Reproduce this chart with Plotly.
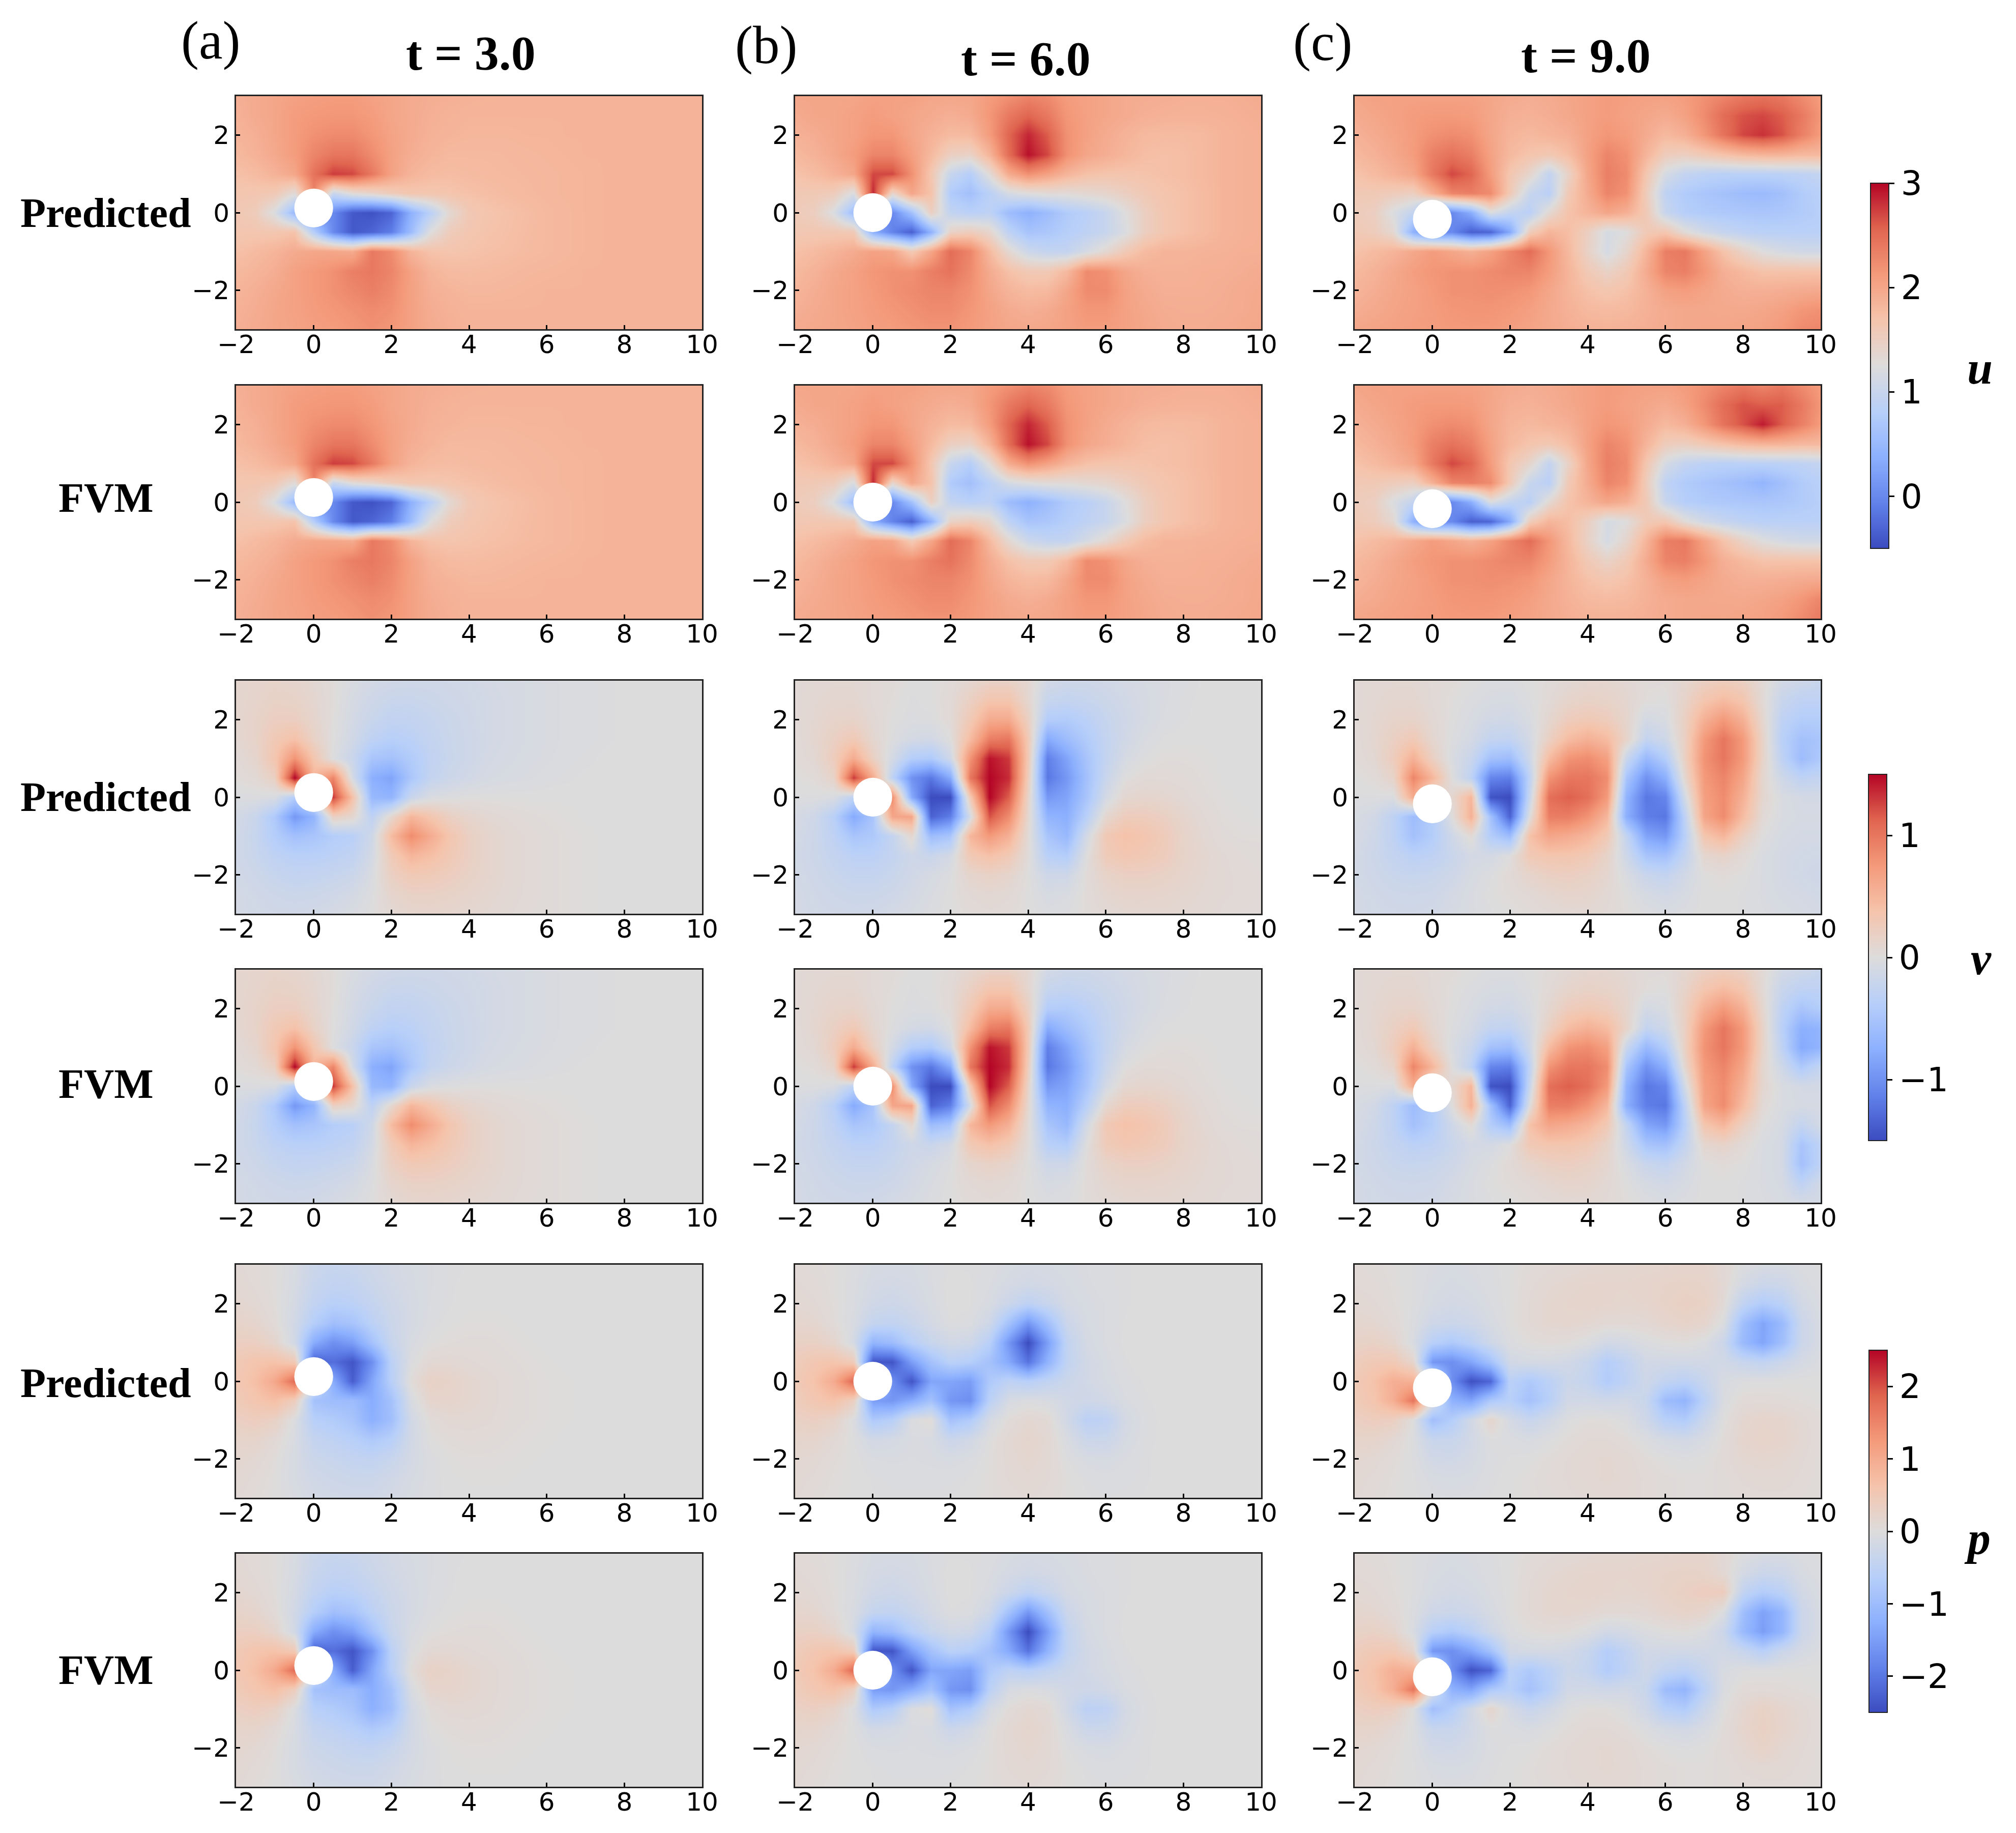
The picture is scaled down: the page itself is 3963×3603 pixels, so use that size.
import plotly.graph_objects as go

W, H = 3963, 3603

# grid of the fields, rows below are written from y = 3 (top) down to y = -3
x_grid = [-2, -1.5, -1, -0.5, 0, 0.5, 1, 1.5, 2, 2.5, 3, 3.5, 4, 4.5, 5, 5.5, 6, 6.5, 7, 7.5, 8, 8.5, 9, 9.5, 10]
y_grid = [3, 2.5, 2, 1.5, 1, 0.5, 0, -0.5, -1, -1.5, -2, -2.5, -3]

u_t3 = [
    [1.9,1.95,2.0,2.05,2.08,2.1,2.1,2.05,2.0,1.95,1.92,1.9,1.88,1.87,1.86,1.86,1.86,1.86,1.86,1.86,1.86,1.86,1.86,1.86,1.86],
    [1.88,1.95,2.0,2.1,2.13,2.15,2.15,2.1,2.0,1.95,1.9,1.87,1.85,1.85,1.85,1.85,1.85,1.85,1.85,1.85,1.85,1.85,1.85,1.85,1.85],
    [1.85,1.9,2.0,2.1,2.2,2.25,2.25,2.15,2.03,1.95,1.88,1.85,1.83,1.83,1.83,1.84,1.84,1.85,1.85,1.85,1.85,1.85,1.85,1.85,1.85],
    [1.8,1.87,1.97,2.1,2.3,2.42,2.42,2.25,2.05,1.92,1.85,1.8,1.8,1.8,1.81,1.82,1.83,1.84,1.85,1.85,1.85,1.85,1.85,1.85,1.85],
    [1.72,1.77,1.87,2.0,2.45,2.75,2.7,2.4,2.05,1.85,1.78,1.76,1.78,1.79,1.8,1.81,1.82,1.83,1.84,1.85,1.85,1.85,1.85,1.85,1.85],
    [1.65,1.65,1.6,1.3,2.3,1.0,1.3,1.4,1.55,1.65,1.65,1.68,1.72,1.75,1.78,1.8,1.82,1.83,1.84,1.85,1.85,1.85,1.85,1.85,1.85],
    [1.62,1.55,1.2,0.5,0.0,0.0,-0.4,-0.45,-0.3,0.4,0.85,1.35,1.6,1.68,1.72,1.76,1.8,1.82,1.84,1.85,1.85,1.85,1.85,1.85,1.85],
    [1.65,1.65,1.65,1.7,0.8,0.0,-0.4,-0.3,-0.1,0.55,1.25,1.55,1.65,1.7,1.73,1.77,1.8,1.82,1.84,1.85,1.85,1.85,1.85,1.85,1.85],
    [1.72,1.78,1.85,1.95,2.0,2.0,1.95,2.4,2.25,1.85,1.7,1.68,1.7,1.73,1.75,1.78,1.8,1.82,1.84,1.85,1.85,1.85,1.85,1.85,1.85],
    [1.8,1.85,1.92,2.05,2.12,2.2,2.35,2.4,2.3,2.05,1.85,1.78,1.77,1.78,1.8,1.82,1.83,1.84,1.85,1.85,1.85,1.85,1.85,1.85,1.85],
    [1.85,1.9,1.98,2.05,2.12,2.2,2.28,2.35,2.25,2.05,1.9,1.85,1.82,1.82,1.83,1.84,1.85,1.85,1.85,1.85,1.85,1.85,1.85,1.85,1.85],
    [1.88,1.93,2.0,2.05,2.1,2.15,2.2,2.25,2.2,2.05,1.93,1.88,1.85,1.85,1.85,1.85,1.85,1.85,1.85,1.85,1.85,1.85,1.85,1.85,1.85],
    [1.9,1.95,2.0,2.03,2.08,2.1,2.15,2.2,2.15,2.05,1.95,1.9,1.87,1.86,1.86,1.86,1.86,1.86,1.86,1.86,1.86,1.86,1.86,1.86,1.86],
]
u_t6 = [
    [2.0,2.0,2.0,2.0,2.05,2.05,2.05,2.0,2.0,2.0,2.1,2.2,2.3,2.25,2.1,2.05,2.0,1.95,1.93,1.92,1.9,1.9,1.9,1.92,1.95],
    [1.95,2.0,2.0,2.05,2.1,2.05,2.0,1.95,1.9,1.95,2.15,2.4,2.55,2.4,2.15,2.05,2.0,1.95,1.9,1.88,1.87,1.87,1.88,1.9,1.92],
    [1.88,1.93,2.0,2.05,2.15,2.15,2.0,1.88,1.78,1.8,2.1,2.55,2.85,2.6,2.2,2.05,1.95,1.87,1.8,1.78,1.78,1.8,1.85,1.88,1.9],
    [1.8,1.87,1.97,2.1,2.3,2.3,2.08,1.8,1.5,1.45,1.85,2.5,2.95,2.7,2.2,2.0,1.92,1.83,1.75,1.73,1.75,1.8,1.85,1.88,1.9],
    [1.7,1.77,1.87,2.0,2.7,2.7,2.2,1.65,1.0,0.8,1.3,1.95,2.2,2.05,1.85,1.72,1.68,1.68,1.7,1.73,1.75,1.8,1.85,1.88,1.9],
    [1.6,1.6,1.55,1.2,2.85,1.4,2.0,1.7,0.75,0.6,0.85,1.15,1.25,1.3,1.3,1.35,1.4,1.5,1.6,1.68,1.72,1.78,1.85,1.88,1.9],
    [1.57,1.5,1.2,0.55,0.0,0.0,0.6,1.5,0.95,0.85,0.9,0.55,0.4,0.55,0.75,0.85,1.0,1.25,1.5,1.65,1.72,1.78,1.85,1.88,1.9],
    [1.62,1.63,1.63,1.6,0.4,-0.05,-0.35,0.4,1.45,1.55,1.4,0.9,0.65,0.7,0.8,0.9,1.0,1.2,1.5,1.65,1.72,1.78,1.85,1.88,1.9],
    [1.72,1.78,1.85,1.95,2.05,2.0,1.6,2.0,2.5,2.3,1.8,1.35,1.05,0.95,0.95,1.15,1.35,1.6,1.78,1.85,1.85,1.87,1.88,1.9,1.9],
    [1.8,1.87,1.97,2.05,2.15,2.2,2.2,2.35,2.45,2.25,1.95,1.72,1.6,1.6,1.8,2.25,2.2,2.0,1.9,1.88,1.88,1.9,1.9,1.92,1.95],
    [1.85,1.92,2.0,2.05,2.12,2.2,2.25,2.3,2.3,2.2,2.0,1.85,1.78,1.8,2.0,2.25,2.25,2.05,1.95,1.9,1.9,1.9,1.92,1.95,1.97],
    [1.9,1.95,2.0,2.05,2.1,2.15,2.2,2.25,2.25,2.15,2.05,1.95,1.9,1.95,2.05,2.15,2.15,2.05,1.98,1.93,1.92,1.92,1.93,1.95,1.98],
    [1.95,1.98,2.0,2.03,2.08,2.1,2.15,2.18,2.18,2.12,2.05,2.0,1.98,2.0,2.05,2.1,2.1,2.05,2.0,1.95,1.93,1.93,1.95,1.97,2.0],
]
u_t9 = [
    [2.0,2.05,2.05,2.05,2.05,2.05,2.05,2.0,1.95,1.92,1.95,2.0,2.05,2.1,2.08,2.05,2.05,2.1,2.2,2.3,2.4,2.45,2.4,2.25,2.1],
    [1.95,2.0,2.05,2.1,2.12,2.12,2.1,2.0,1.9,1.88,1.92,1.98,2.05,2.1,2.05,2.0,1.95,2.05,2.25,2.5,2.65,2.7,2.6,2.4,2.15],
    [1.88,1.95,2.02,2.1,2.2,2.25,2.2,2.0,1.85,1.8,1.85,1.9,2.05,2.15,2.1,1.95,1.8,1.9,2.15,2.45,2.7,2.8,2.65,2.35,2.1],
    [1.8,1.88,1.97,2.1,2.35,2.45,2.35,2.05,1.8,1.68,1.62,1.75,2.05,2.3,2.2,1.85,1.55,1.5,1.6,1.7,1.8,1.85,1.85,1.8,1.8],
    [1.7,1.78,1.88,2.0,2.4,2.7,2.55,2.1,1.65,1.4,0.95,1.45,2.0,2.35,2.25,1.65,1.15,0.95,0.88,0.85,0.85,0.85,0.87,0.9,0.95],
    [1.6,1.6,1.55,1.5,1.9,2.3,2.35,2.25,1.6,1.0,0.85,1.6,1.95,2.3,2.2,1.55,0.9,0.75,0.68,0.62,0.55,0.52,0.6,0.75,0.85],
    [1.55,1.5,1.2,0.95,0.0,0.0,0.35,1.2,0.95,0.85,1.35,1.7,1.85,2.0,1.9,1.6,1.0,0.8,0.75,0.72,0.7,0.68,0.7,0.75,0.82],
    [1.6,1.55,1.35,0.4,0.0,0.0,-0.35,-0.3,0.3,1.55,1.85,1.75,1.5,1.15,1.25,1.6,1.65,1.3,1.1,0.98,0.9,0.85,0.85,0.85,0.85],
    [1.7,1.78,1.85,1.98,2.1,2.0,1.9,2.05,2.3,2.5,2.15,1.8,1.45,1.15,1.4,1.85,2.35,2.4,2.05,1.7,1.45,1.25,1.15,1.1,1.1],
    [1.8,1.87,1.97,2.08,2.15,2.2,2.2,2.25,2.3,2.3,2.1,1.85,1.6,1.45,1.6,1.95,2.3,2.35,2.15,1.9,1.8,1.7,1.7,1.7,1.7],
    [1.85,1.92,2.0,2.05,2.12,2.2,2.2,2.22,2.2,2.15,2.0,1.85,1.72,1.65,1.72,1.88,2.05,2.1,2.03,1.95,1.9,1.9,1.92,1.95,1.97],
    [1.92,1.97,2.02,2.06,2.1,2.15,2.17,2.17,2.13,2.07,1.97,1.88,1.8,1.78,1.8,1.88,1.95,1.98,1.98,1.97,1.97,2.0,2.05,2.15,2.2],
    [2.0,2.03,2.05,2.08,2.1,2.12,2.13,2.12,2.08,2.03,1.97,1.92,1.88,1.87,1.88,1.92,1.95,1.98,2.0,2.0,2.02,2.05,2.12,2.25,2.3],
]
v_t3 = [
    [0.1,0.12,0.14,0.12,0.08,0.02,-0.05,-0.1,-0.13,-0.14,-0.14,-0.13,-0.12,-0.1,-0.08,-0.07,-0.05,-0.04,-0.03,-0.02,-0.01,0,0,0,0],
    [0.1,0.13,0.17,0.16,0.1,0.02,-0.08,-0.15,-0.2,-0.2,-0.18,-0.15,-0.13,-0.11,-0.09,-0.07,-0.05,-0.04,-0.03,-0.02,-0.01,0,0,0,0],
    [0.1,0.15,0.22,0.22,0.12,0.01,-0.1,-0.2,-0.27,-0.26,-0.22,-0.18,-0.14,-0.11,-0.09,-0.07,-0.05,-0.04,-0.03,-0.02,-0.01,0,0,0,0],
    [0.08,0.15,0.3,0.4,0.17,0,-0.13,-0.3,-0.37,-0.33,-0.25,-0.19,-0.15,-0.11,-0.09,-0.07,-0.05,-0.04,-0.03,-0.02,-0.01,0,0,0,0],
    [0.05,0.12,0.35,0.8,0.35,-0.02,-0.2,-0.5,-0.55,-0.42,-0.28,-0.2,-0.15,-0.1,-0.08,-0.06,-0.05,-0.03,-0.02,-0.01,0,0,0,0,0],
    [0.02,0.06,0.2,1.5,0.5,0.9,-0.1,-0.75,-0.85,-0.48,-0.25,-0.17,-0.12,-0.08,-0.06,-0.05,-0.03,-0.02,-0.01,-0.01,0,0,0,0,0],
    [-0.03,-0.03,-0.05,-0.4,0,1.3,0.4,-0.65,-0.7,-0.2,-0.05,-0.02,0,0,0,0,0,0,0,0,0,0,0,0,0],
    [-0.1,-0.2,-0.45,-0.95,-0.7,0.2,0.1,-0.3,0.1,0.5,0.35,0.2,0.12,0.08,0.05,0.03,0.02,0.01,0,0,0,0,0,0,0],
    [-0.12,-0.22,-0.4,-0.55,-0.5,-0.4,-0.35,-0.15,0.45,0.85,0.6,0.35,0.2,0.12,0.08,0.05,0.03,0.02,0.01,0,0,0,0,0,0],
    [-0.13,-0.2,-0.3,-0.35,-0.35,-0.32,-0.28,-0.1,0.28,0.5,0.42,0.3,0.2,0.12,0.08,0.05,0.03,0.02,0.01,0,0,0,0,0,0],
    [-0.12,-0.16,-0.22,-0.26,-0.25,-0.22,-0.18,-0.05,0.2,0.3,0.28,0.23,0.17,0.12,0.08,0.05,0.03,0.02,0.01,0,0,0,0,0,0],
    [-0.1,-0.13,-0.16,-0.18,-0.17,-0.14,-0.1,-0.02,0.12,0.18,0.18,0.16,0.13,0.1,0.07,0.05,0.03,0.02,0.01,0,0,0,0,0,0],
    [-0.1,-0.12,-0.13,-0.13,-0.12,-0.09,-0.05,0,0.07,0.11,0.12,0.11,0.09,0.08,0.06,0.04,0.03,0.02,0.01,0,0,0,0,0,0],
]
v_t6 = [
    [0.05,0.07,0.08,0.08,0.05,0.03,0,0,0.03,0.1,0.17,0.17,0.08,-0.1,-0.15,-0.15,-0.12,-0.1,-0.07,-0.05,-0.03,-0.01,0,0,0],
    [0.05,0.08,0.1,0.1,0.05,0.02,-0.02,0,0.05,0.2,0.35,0.35,0.1,-0.22,-0.25,-0.22,-0.17,-0.12,-0.08,-0.05,-0.02,-0.01,0,0,0],
    [0.05,0.09,0.14,0.15,0.07,0,-0.03,-0.02,0.05,0.3,0.6,0.6,0.2,-0.4,-0.42,-0.33,-0.22,-0.14,-0.08,-0.04,-0.02,0,0,0,0],
    [0.04,0.1,0.2,0.3,0.1,-0.02,-0.1,-0.12,0,0.45,0.95,1.0,0.3,-0.8,-0.6,-0.42,-0.25,-0.13,-0.05,-0.01,0,0,0,0,0],
    [0.03,0.08,0.25,0.6,0.2,-0.1,-0.4,-0.45,-0.15,0.8,1.45,1.3,0.3,-1.15,-0.85,-0.5,-0.25,-0.08,-0.01,0.02,0.02,0.01,0,0,0],
    [0,0.03,0.15,1.3,0.6,-0.3,-1.0,-1.2,-0.8,1.0,1.5,1.35,0.25,-1.2,-0.95,-0.55,-0.2,0,0.05,0.05,0.04,0.02,0,0,0],
    [-0.02,-0.02,-0.05,-0.3,0,0.85,-0.8,-1.5,-1.5,0.3,1.5,1.15,0.15,-0.95,-0.85,-0.5,-0.1,0.1,0.12,0.1,0.07,0.03,0.01,0,0],
    [-0.08,-0.15,-0.35,-0.8,-0.5,0.65,0.65,-1.35,-1.15,-0.1,1.2,0.85,0.1,-0.7,-0.75,-0.35,0.1,0.25,0.25,0.2,0.12,0.06,0.02,0.01,0],
    [-0.1,-0.17,-0.3,-0.5,-0.45,-0.25,0.1,-0.6,-0.5,0.5,0.75,0.55,0.05,-0.5,-0.65,-0.1,0.3,0.4,0.35,0.27,0.15,0.08,0.03,0.02,0.02],
    [-0.12,-0.17,-0.24,-0.33,-0.33,-0.25,-0.15,-0.2,-0.1,0.3,0.4,0.3,0.03,-0.35,-0.4,0,0.27,0.33,0.3,0.25,0.15,0.1,0.06,0.04,0.03],
    [-0.11,-0.15,-0.2,-0.24,-0.24,-0.2,-0.13,-0.08,-0.02,0.12,0.17,0.13,0,-0.15,-0.15,0.03,0.15,0.2,0.2,0.17,0.13,0.09,0.06,0.05,0.04],
    [-0.1,-0.13,-0.16,-0.18,-0.18,-0.15,-0.1,-0.05,0,0.06,0.08,0.06,0,-0.07,-0.05,0.03,0.1,0.13,0.13,0.12,0.1,0.08,0.06,0.05,0.04],
    [-0.1,-0.12,-0.13,-0.14,-0.13,-0.1,-0.07,-0.03,0,0.03,0.05,0.04,0,-0.03,-0.02,0.03,0.06,0.08,0.09,0.09,0.08,0.07,0.05,0.04,0.04],
]
v_t9 = [
    [0.05,0.07,0.08,0.08,0.05,0.03,0,-0.03,-0.03,0,0.03,0.07,0.1,0.1,0.07,0.03,0.03,0.1,0.2,0.25,0.2,0.05,-0.1,-0.15,-0.2],
    [0.05,0.08,0.1,0.1,0.05,0.01,-0.03,-0.06,-0.07,-0.02,0.05,0.13,0.17,0.15,0.1,0.02,0,0.15,0.35,0.45,0.35,0.05,-0.2,-0.3,-0.3],
    [0.05,0.09,0.14,0.15,0.07,0,-0.06,-0.12,-0.13,-0.05,0.1,0.25,0.3,0.25,0.12,-0.1,-0.05,0.2,0.55,0.75,0.55,0.1,-0.3,-0.4,-0.4],
    [0.04,0.1,0.2,0.3,0.1,-0.02,-0.1,-0.25,-0.27,-0.1,0.2,0.45,0.55,0.45,0.15,-0.25,-0.15,0.2,0.75,1.0,0.75,0.15,-0.35,-0.55,-0.5],
    [0.03,0.08,0.25,0.55,0.2,-0.05,-0.2,-0.55,-0.6,-0.15,0.45,0.8,0.85,0.7,-0.2,-0.65,-0.4,0.2,0.8,1.0,0.75,0.15,-0.3,-0.6,-0.45],
    [0,0.03,0.15,0.9,0.5,0,-0.3,-1.1,-1.15,-0.3,0.8,1.0,1.0,0.85,-0.5,-1.0,-0.75,0.1,0.75,0.9,0.65,0.1,-0.15,-0.3,-0.25],
    [-0.02,-0.02,-0.03,0.6,0,0.1,0.5,-1.45,-1.5,-0.2,1.05,1.15,1.05,0.75,-0.7,-1.2,-1.1,-0.1,0.7,0.85,0.55,0.1,-0.05,-0.1,-0.1],
    [-0.06,-0.12,-0.3,-0.6,-0.4,0,0.55,-0.55,-1.35,0,0.95,0.95,0.8,0.5,-0.75,-1.15,-1.2,-0.3,0.65,0.85,0.45,0.05,-0.05,-0.08,-0.08],
    [-0.08,-0.15,-0.3,-0.55,-0.4,-0.15,0.05,-0.4,-0.6,0.4,0.65,0.6,0.5,0.3,-0.25,-0.85,-0.95,-0.35,0.35,0.5,0.2,0,-0.08,-0.1,-0.1],
    [-0.1,-0.17,-0.25,-0.33,-0.3,-0.2,-0.1,-0.1,0,0.3,0.35,0.35,0.3,0.15,-0.15,-0.5,-0.55,-0.25,0.1,0.15,0.05,-0.05,-0.1,-0.12,-0.13],
    [-0.11,-0.15,-0.2,-0.22,-0.2,-0.15,-0.07,-0.02,0.05,0.13,0.2,0.22,0.18,0.1,-0.05,-0.2,-0.25,-0.12,0,0.03,0,-0.05,-0.1,-0.13,-0.15],
    [-0.1,-0.13,-0.15,-0.16,-0.15,-0.1,-0.05,0,0.03,0.06,0.1,0.13,0.12,0.07,0,-0.08,-0.12,-0.07,0,0,-0.02,-0.05,-0.08,-0.1,-0.12],
    [-0.1,-0.12,-0.13,-0.13,-0.12,-0.08,-0.05,-0.02,0,0.03,0.05,0.07,0.07,0.05,0.02,-0.02,-0.05,-0.03,0,0,-0.02,-0.04,-0.06,-0.08,-0.1],
]
p_t3 = [
    [0.1,0.07,0.02,-0.1,-0.3,-0.35,-0.32,-0.25,-0.17,-0.12,-0.08,-0.04,-0.02,-0.01,0,0,0,0,0,0,0,0,0,0,0],
    [0.13,0.08,0.02,-0.12,-0.35,-0.45,-0.42,-0.3,-0.2,-0.13,-0.08,-0.03,-0.01,0,0,0,0,0,0,0,0,0,0,0,0],
    [0.17,0.12,0.03,-0.15,-0.45,-0.6,-0.55,-0.4,-0.25,-0.15,-0.07,-0.03,0,0,0,0,0,0,0,0,0,0,0,0,0],
    [0.25,0.2,0.06,-0.2,-0.65,-0.95,-0.85,-0.55,-0.3,-0.15,-0.05,0,0.02,0.02,0.01,0,0,0,0,0,0,0,0,0,0],
    [0.35,0.35,0.2,-0.2,-1.3,-1.7,-1.5,-0.9,-0.35,-0.1,0,0.04,0.05,0.05,0.03,0.01,0,0,0,0,0,0,0,0,0],
    [0.48,0.6,0.65,0.5,-2.3,-2.1,-2.4,-1.7,-0.55,-0.05,0.12,0.13,0.1,0.07,0.05,0.03,0.01,0,0,0,0,0,0,0,0],
    [0.52,0.7,1.05,1.8,0,-1.3,-2.3,-1.4,-0.6,0.05,0.3,0.25,0.17,0.12,0.07,0.04,0.02,0.01,0,0,0,0,0,0,0],
    [0.45,0.58,0.7,0.4,-0.9,-1.0,-1.0,-1.3,-0.9,-0.1,0.2,0.22,0.17,0.12,0.07,0.04,0.02,0.01,0,0,0,0,0,0,0],
    [0.33,0.4,0.3,-0.05,-0.6,-0.7,-0.85,-1.25,-0.95,-0.2,0.05,0.12,0.12,0.1,0.06,0.04,0.02,0.01,0,0,0,0,0,0,0],
    [0.22,0.22,0.1,-0.1,-0.4,-0.5,-0.6,-0.75,-0.6,-0.2,0,0.05,0.07,0.06,0.04,0.02,0.01,0,0,0,0,0,0,0,0],
    [0.17,0.13,0.03,-0.12,-0.3,-0.35,-0.42,-0.45,-0.35,-0.17,-0.05,0.01,0.03,0.03,0.02,0.01,0,0,0,0,0,0,0,0,0],
    [0.13,0.08,0.01,-0.12,-0.22,-0.27,-0.3,-0.3,-0.22,-0.13,-0.05,0,0.01,0.01,0.01,0,0,0,0,0,0,0,0,0,0],
    [0.1,0.05,0,-0.08,-0.17,-0.2,-0.22,-0.22,-0.16,-0.1,-0.05,-0.01,0,0,0,0,0,0,0,0,0,0,0,0,0],
]
p_t6 = [
    [0.08,0.05,0.02,-0.05,-0.12,-0.13,-0.12,-0.07,-0.03,-0.03,-0.05,-0.1,-0.13,-0.12,-0.1,-0.07,-0.05,-0.03,-0.01,0,0,0,0,0,0],
    [0.1,0.07,0.02,-0.06,-0.16,-0.18,-0.15,-0.08,0,-0.02,-0.07,-0.15,-0.2,-0.17,-0.12,-0.08,-0.05,-0.03,-0.01,0,0,0,0,0,0],
    [0.13,0.1,0.03,-0.07,-0.22,-0.27,-0.2,-0.1,0,-0.02,-0.1,-0.3,-0.5,-0.35,-0.15,-0.1,-0.07,-0.03,-0.01,0,0,0,0,0,0],
    [0.2,0.17,0.05,-0.1,-0.4,-0.45,-0.33,-0.17,-0.03,-0.05,-0.25,-0.9,-1.6,-0.95,-0.3,-0.12,-0.07,-0.02,0,0,0,0,0,0,0],
    [0.3,0.32,0.2,-0.15,-1.15,-1.0,-0.6,-0.35,-0.2,-0.25,-0.6,-1.6,-2.5,-1.5,-0.45,-0.15,-0.07,-0.01,0,0,0,0,0,0,0],
    [0.42,0.55,0.6,0.45,-2.4,-2.4,-1.5,-0.9,-0.55,-0.65,-0.9,-1.35,-2.05,-1.2,-0.45,-0.2,-0.1,-0.03,0,0,0,0,0,0,0],
    [0.47,0.65,1.0,1.85,0,-1.7,-2.4,-1.4,-1.4,-1.5,-0.75,-0.5,-0.6,-0.45,-0.3,-0.2,-0.12,-0.05,-0.02,0,0,0,0,0,0],
    [0.4,0.55,0.65,0.35,-1.5,-1.6,-1.3,-0.9,-1.6,-1.7,-0.55,-0.12,-0.05,-0.1,-0.2,-0.25,-0.2,-0.08,-0.03,-0.01,0,0,0,0,0],
    [0.3,0.35,0.25,-0.05,-0.75,-0.6,-0.05,0.05,-0.9,-0.7,-0.15,0.05,0.15,0.1,-0.2,-0.55,-0.5,-0.17,-0.05,-0.01,0,0,0,0,0],
    [0.2,0.2,0.1,-0.02,-0.2,-0.15,-0.08,-0.1,-0.3,-0.2,0,0.13,0.2,0.13,-0.08,-0.3,-0.3,-0.13,-0.04,-0.01,0,0,0,0,0],
    [0.15,0.12,0.05,0,-0.07,-0.08,-0.07,-0.08,-0.1,-0.07,0.02,0.12,0.17,0.12,-0.02,-0.1,-0.12,-0.07,-0.03,-0.01,0,0,0,0,0],
    [0.12,0.08,0.03,0,-0.03,-0.05,-0.06,-0.06,-0.05,-0.02,0.03,0.1,0.13,0.1,0.02,-0.04,-0.06,-0.05,-0.03,-0.01,0,0,0,0,0],
    [0.1,0.05,0.02,0,-0.02,-0.03,-0.03,-0.03,-0.02,0,0.03,0.07,0.1,0.07,0.02,-0.02,-0.04,-0.03,-0.02,-0.01,0,0,0,0,0],
]
p_t9 = [
    [0.07,0.05,0.02,-0.03,-0.08,-0.1,-0.08,-0.04,0,0.05,0.08,0.1,0.13,0.15,0.15,0.17,0.18,0.2,0.2,0.1,-0.03,-0.1,-0.1,-0.06,-0.03],
    [0.09,0.07,0.03,-0.03,-0.1,-0.13,-0.1,-0.05,0,0.08,0.13,0.17,0.2,0.2,0.2,0.22,0.25,0.27,0.25,0.12,-0.15,-0.3,-0.27,-0.1,-0.05],
    [0.12,0.1,0.04,-0.03,-0.13,-0.18,-0.15,-0.07,0,0.1,0.17,0.2,0.22,0.2,0.18,0.2,0.27,0.33,0.3,0.08,-0.45,-0.7,-0.55,-0.2,-0.07],
    [0.18,0.16,0.08,-0.05,-0.25,-0.3,-0.25,-0.12,0,0.1,0.17,0.18,0.15,0.1,0.1,0.12,0.2,0.25,0.2,-0.05,-0.95,-1.4,-1.05,-0.3,-0.1],
    [0.27,0.3,0.2,-0.1,-0.6,-0.75,-0.55,-0.25,-0.05,0.02,0.05,0.03,-0.05,-0.2,-0.15,-0.05,0,0.03,-0.05,-0.3,-1.05,-1.4,-0.95,-0.3,-0.1],
    [0.4,0.5,0.5,0.2,-1.6,-1.7,-1.4,-0.9,-0.2,-0.15,-0.15,-0.2,-0.35,-0.65,-0.45,-0.2,-0.2,-0.2,-0.2,-0.2,-0.35,-0.45,-0.3,-0.15,-0.05],
    [0.48,0.65,0.95,0.9,0,-1.7,-2.45,-2.2,-0.55,-0.75,-0.55,-0.3,-0.4,-0.7,-0.5,-0.25,-0.45,-0.55,-0.35,-0.1,-0.03,-0.02,-0.01,0,0],
    [0.45,0.6,0.95,1.7,0,-1.2,-1.4,-0.75,-0.6,-0.9,-0.6,-0.2,-0.2,-0.25,-0.2,-0.35,-1.0,-1.15,-0.55,-0.07,0.07,0.08,0.06,0.03,0.01],
    [0.33,0.4,0.35,0,-0.95,-0.65,-0.2,0.2,-0.15,-0.35,-0.2,-0.03,0.03,0.02,-0.05,-0.25,-0.6,-0.7,-0.3,0,0.17,0.22,0.2,0.12,0.05],
    [0.23,0.22,0.12,-0.05,-0.35,-0.35,-0.2,-0.03,-0.05,-0.1,-0.03,0.05,0.1,0.1,0.05,-0.05,-0.15,-0.2,-0.1,0.05,0.2,0.25,0.22,0.13,0.05],
    [0.16,0.12,0.05,-0.03,-0.2,-0.22,-0.15,-0.05,-0.02,0,0.05,0.1,0.13,0.15,0.12,0.05,0,-0.03,0,0.07,0.15,0.17,0.15,0.1,0.05],
    [0.12,0.08,0.03,-0.02,-0.1,-0.12,-0.1,-0.04,0,0.03,0.07,0.1,0.13,0.15,0.13,0.08,0.05,0.03,0.03,0.05,0.1,0.12,0.12,0.08,0.05],
    [0.1,0.06,0.02,-0.01,-0.06,-0.07,-0.06,-0.02,0,0.03,0.05,0.08,0.1,0.12,0.12,0.08,0.05,0.03,0.03,0.05,0.07,0.08,0.08,0.06,0.04],
]

# places where the FVM panels differ from the predicted ones: (y, x) -> value
fvm_u_t9 = {(3, 8.5): 2.3, (2.5, 8.5): 2.6, (2, 8.5): 2.9, (2, 8): 2.65, (2, 9): 2.6, (0.5, 8.5): 0.45, (-3, 10): 2.4, (-2.5, 10): 2.3}
fvm_v_t9 = {(2, 9.5): -0.5, (1.5, 9.5): -0.75, (1, 9.5): -0.8, (1.5, 10): -0.7, (1, 10): -0.7, (0.5, 9.5): -0.45,
            (-1, 9.5): -0.25, (-1.5, 9.5): -0.5, (-2, 9.5): -0.55, (-2.5, 9.5): -0.3, (-1.5, 10): -0.3, (-2, 10): -0.3}
fvm_p_t9 = {(1, 8.5): -1.5, (1.5, 8.5): -1.45, (1, 9): -1.15, (1.5, 9): -1.15, (0.5, 8.5): -0.6, (2, 7.5): 0.4, (2, 7): 0.4,
            (-1, 8.5): 0.3, (-1.5, 8.5): 0.33, (-2, 8.5): 0.27}

col_titles = ['t = 3.0', 't = 6.0', 't = 9.0']
panel_tags = ['(a)', '(b)', '(c)']
row_names = ['Predicted', 'FVM', 'Predicted', 'FVM', 'Predicted', 'FVM']
var_names = ['u', 'v', 'p']
x_ticks = [-2, 0, 2, 4, 6, 8, 10]
y_ticks = [-2, 0, 2]
cylinder_y = [0.12, 0.0, -0.17]
cylinder_r = 0.5

u_range = [-0.5, 3]
v_range = [-1.5, 1.5]
p_range = [-2.5, 2.5]
u_cticks = [0, 1, 2, 3]
v_cticks = [-1, 0, 1]
p_cticks = [-2, -1, 0, 1, 2]

coolwarm = [[0, '#3b4cc0'], [0.125, '#6282ea'], [0.25, '#8db0fe'], [0.375, '#b7cff9'], [0.5, '#dddcdc'],
            [0.625, '#f5c4ac'], [0.75, '#f49a7b'], [0.875, '#e0654f'], [1, '#b40426']]

# panel edges in pixels of the page
col_left = [464, 1563, 2663]
panel_w = 916
row_top = [189, 758, 1338, 1906, 2486, 3054]
panel_h = 458
cb_left = [3677, 3673, 3674]
cb_top = [360, 1522, 2654]
cb_bottom = [1078, 2242, 3366]


def px(x):
    return x / W


def py(y):
    return 1 - y / H


def with_fixes(rows, fixes):
    rows = [list(r) for r in rows]
    for (yv, xv), val in fixes.items():
        rows[y_grid.index(yv)][x_grid.index(xv)] = val
    return rows


fields = [
    [u_t3, u_t3, u_t6, u_t6, u_t9, with_fixes(u_t9, fvm_u_t9)],
    [v_t3, v_t3, v_t6, v_t6, v_t9, with_fixes(v_t9, fvm_v_t9)],
    [p_t3, p_t3, p_t6, p_t6, p_t9, with_fixes(p_t9, fvm_p_t9)],
]

fig = go.Figure()
layout = {}
shapes = []
n = 0
for row in range(6):
    var = row // 2
    for col in range(3):
        n += 1
        name = '' if n == 1 else str(n)
        z = fields[var][col * 2 + row % 2]
        fig.add_trace(go.Heatmap(
            x=x_grid, y=y_grid[::-1], z=z[::-1],
            zsmooth='best',
            coloraxis='coloraxis' + ('' if var == 0 else str(var + 1)),
            xaxis='x' + name, yaxis='y' + name,
        ))
        common = dict(ticks='inside', ticklen=8, tickwidth=3, tickcolor='black',
                      showline=True, mirror=True, linecolor='#222222', linewidth=3,
                      showgrid=False, zeroline=False,
                      tickfont=dict(family='DejaVu Sans', size=50, color='black'))
        layout['xaxis' + name] = dict(common, domain=[px(col_left[col]), px(col_left[col] + panel_w)],
                                      range=[-2, 10], tickvals=x_ticks, anchor='y' + name,
                                      ticklabelstandoff=-16)
        layout['yaxis' + name] = dict(common, domain=[py(row_top[row] + panel_h), py(row_top[row])],
                                      range=[-3, 3], tickvals=y_ticks, anchor='x' + name)
        shapes.append(dict(type='circle', xref='x' + name, yref='y' + name,
                           x0=-cylinder_r, x1=cylinder_r,
                           y0=cylinder_y[col] - cylinder_r, y1=cylinder_y[col] + cylinder_r,
                           fillcolor='white', line=dict(width=0)))

ranges = [u_range, v_range, p_range]
cticks = [u_cticks, v_cticks, p_cticks]
for i in range(3):
    name = 'coloraxis' + ('' if i == 0 else str(i + 1))
    layout[name] = dict(
        colorscale=coolwarm, cmin=ranges[i][0], cmax=ranges[i][1],
        colorbar=dict(
            x=px(cb_left[i]), xanchor='left', xpad=0,
            y=py(cb_top[i]), yanchor='top', ypad=0,
            lenmode='fraction', len=(cb_bottom[i] - cb_top[i]) / H,
            thicknessmode='pixels', thickness=36,
            outlinewidth=2, outlinecolor='#222222',
            ticks='outside', ticklen=10, tickwidth=3, tickcolor='black',
            tickvals=cticks[i],
            tickfont=dict(family='DejaVu Sans', size=66, color='black'),
        ),
    )


def label(text, x, y, size, family='Liberation Serif'):
    return dict(text=text, xref='paper', yref='paper', x=px(x), y=py(y), xanchor='center', yanchor='middle',
                showarrow=False, font=dict(family=family, size=size, color='black'))


annotations = []
tag_pos = [(414, 80), (1506, 88), (2600, 83)]
title_pos = [(925, 105), (2016, 115), (3117, 110)]
for i in range(3):
    annotations.append(label(panel_tags[i], tag_pos[i][0], tag_pos[i][1], 105))
    annotations.append(label('<b>' + col_titles[i] + '</b>', title_pos[i][0], title_pos[i][1], 96))
row_label_y = [419, 979, 1567, 2130, 2718, 3282]
for i in range(6):
    annotations.append(label('<b>' + row_names[i] + '</b>', 208, row_label_y[i], 82))
var_pos = [(3892, 723), (3894, 1884), (3887, 3024)]
for i in range(3):
    annotations.append(label('<b><i>' + var_names[i] + '</i></b>', var_pos[i][0], var_pos[i][1], 90))

fig.update_layout(
    width=W, height=H,
    margin=dict(l=0, r=0, t=0, b=0, autoexpand=False),
    paper_bgcolor='white', plot_bgcolor='white',
    shapes=shapes, annotations=annotations,
    **layout,
)

fig.write_html("out.html", config={'displayModeBar': False}, post_script="document.body.style.margin='0';")
